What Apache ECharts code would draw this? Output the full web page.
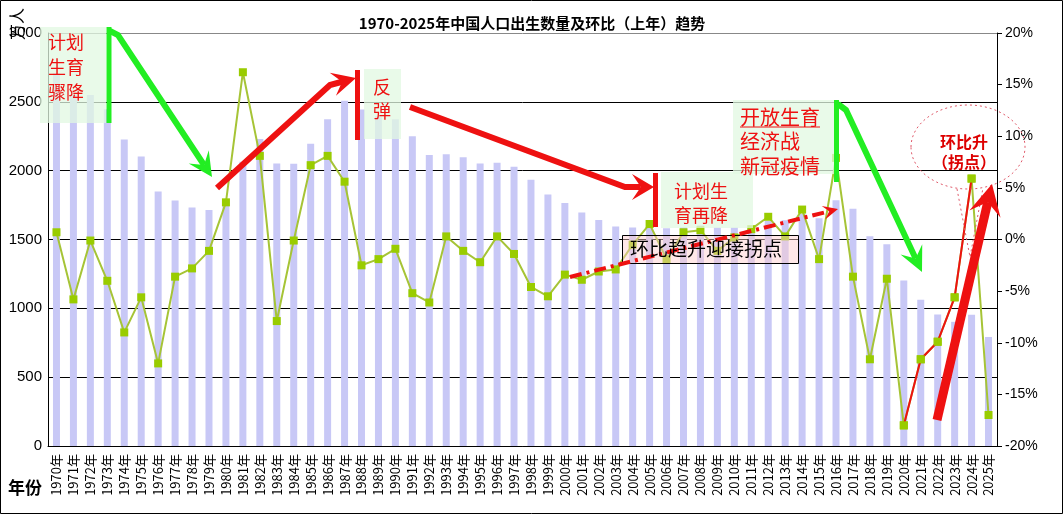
<!DOCTYPE html>
<html>
<head>
<meta charset="utf-8">
<title>1970-2025年中国人口出生数量及环比</title>
<script src="https://cdn.jsdelivr.net/npm/echarts@6/dist/echarts.min.js"></script>
<style>
  html, body { margin: 0; padding: 0; background: #fff; }
  #main { width: 1064px; height: 515px; }
</style>
</head>
<body>
<div id="main"></div>
<script>
// 年份
var years = ['1970年','1971年','1972年','1973年','1974年','1975年','1976年','1977年','1978年','1979年',
  '1980年','1981年','1982年','1983年','1984年','1985年','1986年','1987年','1988年','1989年',
  '1990年','1991年','1992年','1993年','1994年','1995年','1996年','1997年','1998年','1999年',
  '2000年','2001年','2002年','2003年','2004年','2005年','2006年','2007年','2008年','2009年',
  '2010年','2011年','2012年','2013年','2014年','2015年','2016年','2017年','2018年','2019年',
  '2020年','2021年','2022年','2023年','2024年','2025年'];

// 出生人口（万人）
var births = [2710,2551,2550,2447,2226,2102,1849,1783,1733,1715,
  1776,2064,2230,2052,2050,2196,2374,2508,2445,2396,
  2374,2250,2113,2120,2098,2052,2057,2028,1934,1827,
  1765,1696,1641,1594,1588,1612,1581,1591,1604,1587,
  1588,1600,1635,1640,1687,1655,1786,1723,1523,1465,
  1202,1062,956,902,954,792];

// 环比（上年）%
var ratio = [0.7,-5.8,-0.1,-4.0,-9.0,-5.6,-12.0,-3.6,-2.8,-1.1,
  3.6,16.2,8.1,-7.9,-0.1,7.2,8.1,5.6,-2.5,-1.9,
  -0.9,-5.2,-6.1,0.3,-1.1,-2.2,0.3,-1.4,-4.6,-5.5,
  -3.4,-3.9,-3.1,-2.9,-0.5,1.5,-1.9,0.7,0.9,-1.1,
  0.2,1.0,2.2,0.3,2.9,-1.9,7.9,-3.6,-11.6,-3.8,
  -18.0,-11.6,-9.9,-5.6,5.9,-17.0];

// 拐点段
var turnYears = ['2020年','2021年','2022年','2023年','2024年'];

var leftTicks = [0, 3000, 500];
var rightTicks = [-20, 20, 5];

var FONT = 'Noto Sans CJK SC';
var RED = '#ee1111';
var GREEN = '#22ee22';

var turnData = years.map(function(y, i){
	return turnYears.indexOf(y) >= 0 ? ratio[i] : null;
});

/****
 * 箭头：折线 + 燕尾箭头
 */
function arrow(pts, w, color, L, W, dash){
	var n = pts.length, tip = pts[n-1], prev = pts[n-2];
	var dx = tip[0]-prev[0], dy = tip[1]-prev[1];
	var len = Math.sqrt(dx*dx+dy*dy);
	dx /= len; dy /= len;
	var nx = -dy, ny = dx;
	var base = [tip[0]-dx*L, tip[1]-dy*L];
	var notch = [tip[0]-dx*L*0.6, tip[1]-dy*L*0.6];
	var shaft = pts.slice(0, n-1).concat([notch]);
	return [
		{type:'polyline', z:100, shape:{points:shaft},
		 style:{stroke:color, lineWidth:w, fill:null, lineDash:dash || null, lineJoin:'miter'}},
		{type:'polygon', z:100, shape:{points:[tip,[base[0]+nx*W, base[1]+ny*W], notch, [base[0]-nx*W, base[1]-ny*W]]},
		 style:{fill:color}}
	];
}

function box(x, y, w, h, fill, stroke){
	return {type:'rect', z:90, shape:{x:x, y:y, width:w, height:h},
		style:{fill:fill, stroke:stroke || null, lineWidth:1}};
}

function txt(x, y, s, size, color, weight, align){
	return {type:'text', z:110, x:x, y:y,
		style:{text:s, fill:color, font:(weight || 'normal')+' '+size+'px "'+FONT+'"',
			textAlign:align || 'center', textVerticalAlign:'middle'}};
}

function vbar(x, y1, y2, color){
	return {type:'rect', z:100, shape:{x:x-2.5, y:y1, width:5, height:y2-y1}, style:{fill:color}};
}

var GBOX = 'rgba(225,248,225,0.75)';

var graphics = [];
// 外框
graphics.push({type:'rect', z:0, shape:{x:0.5, y:0.5, width:1062, height:513}, style:{fill:null, stroke:'#000', lineWidth:1}});
// 计划生育骤降
graphics.push(box(40, 27, 66, 96, GBOX));
graphics.push(txt(66, 42, '计划', 18, RED));
graphics.push(txt(66, 67, '生育', 18, RED));
graphics.push(txt(66, 92, '骤降', 18, RED));
graphics.push(vbar(109, 27, 123, GREEN));
graphics = graphics.concat(arrow([[110,31],[118,35],[212,177]], 6, GREEN, 24, 12));
// 反弹
graphics = graphics.concat(arrow([[217,188],[330,85],[356,78]], 6, RED, 24, 12));
graphics.push(vbar(357.5, 70, 140, RED));
graphics.push(box(364, 69, 37, 70, GBOX));
graphics.push(txt(382, 87, '反', 18, RED));
graphics.push(txt(382, 111, '弹', 18, RED));
// 计划生育再降
graphics = graphics.concat(arrow([[410,107],[625,187],[654,187]], 6, RED, 22, 13));
graphics.push(vbar(655.5, 173, 227, RED));
graphics.push(box(661, 172, 92, 56, GBOX));
graphics.push(txt(701, 191, '计划生', 18, RED));
graphics.push(txt(701, 215, '育再降', 18, RED));
// 环比趋升迎接拐点
graphics.push(box(622.5, 235.5, 176, 28, 'rgba(255,205,205,0.45)', '#000'));
graphics.push(txt(706, 249, '环比趋升迎接拐点', 19, '#000'));
graphics = graphics.concat(arrow([[570,277],[838,209]], 4, RED, 15, 7, [12,5,3,5]));
// 开放生育
graphics.push(box(733, 100, 101, 74, GBOX));
graphics.push(txt(740, 117, '开放生育', 20, RED, 'normal', 'left'));
graphics.push({type:'line', z:110, shape:{x1:740, y1:127, x2:820, y2:127}, style:{stroke:RED, lineWidth:1}});
graphics.push(txt(740, 141, '经济战', 20, RED, 'normal', 'left'));
graphics.push(txt(740, 166, '新冠疫情', 20, RED, 'normal', 'left'));
graphics.push(vbar(836.5, 100, 182, GREEN));
graphics = graphics.concat(arrow([[838,104],[846,110],[922,272]], 6, GREEN, 25, 12));
// 环比升（拐点）
graphics.push({type:'ellipse', z:95, shape:{cx:968, cy:147, rx:57, ry:42},
	style:{fill:null, stroke:'#e05a6a', lineWidth:1, lineDash:[2,3]}});
graphics.push({type:'polyline', z:95, shape:{points:[[957,189],[970,257],[983,188]]},
	style:{fill:null, stroke:'#e05a6a', lineWidth:1, lineDash:[2,3]}});
graphics.push(txt(964, 142, '环比升', 16, '#dd0000', 'bold'));
graphics.push(txt(964, 162, '（拐点）', 16, '#dd0000', 'bold'));
graphics = graphics.concat(arrow([[937,420],[992,184]], 9, RED, 31, 16));
// 轴名
graphics.push({type:'text', z:110, x:17, y:24, rotation:Math.PI/2,
	style:{text:'万人', fill:'#000', font:'normal 16px "'+FONT+'"', textAlign:'center', textVerticalAlign:'middle'}});
graphics.push(txt(25, 488, '年份', 17, '#000', 'bold'));

var option = {
	animation: false,
	backgroundColor: '#fff',
	title: {
		text: '1970-2025年中国人口出生数量及环比（上年）趋势',
		left: 'center',
		top: 11,
		textStyle: {fontFamily: FONT, fontSize: 15, fontWeight: 'bold', color: '#000'}
	},
	grid: {left: 48, right: 67, top: 33, bottom: 69},
	xAxis: {
		type: 'category',
		data: years,
		axisLine: {lineStyle: {color: '#000', width: 1}},
		axisTick: {inside: true, length: 5, lineStyle: {color: '#000'}},
		axisLabel: {rotate: 90, interval: 0, fontSize: 13, color: '#000', margin: 8, fontFamily: FONT}
	},
	yAxis: [{
		type: 'value',
		min: leftTicks[0], max: leftTicks[1], interval: leftTicks[2],
		axisLine: {show: true, lineStyle: {color: '#000'}},
		axisTick: {show: false},
		axisLabel: {fontSize: 15, color: '#000', margin: 6, fontFamily: 'Liberation Sans',
			formatter: function(v){ return String(v); }},
		splitLine: {lineStyle: {color: ['#000','#000','#000','#000','#000','#000','#888'], width: 1}}
	}, {
		type: 'value',
		position: 'right',
		min: rightTicks[0], max: rightTicks[1], interval: rightTicks[2],
		axisLine: {show: true, lineStyle: {color: '#000'}},
		axisTick: {show: true, length: 5, lineStyle: {color: '#000'}},
		axisLabel: {formatter: '{value}%', fontSize: 14, color: '#000', margin: 8, fontFamily: 'Liberation Sans'},
		splitLine: {show: false}
	}],
	series: [{
		name: '出生人口',
		type: 'bar',
		data: births,
		barWidth: 7,
		itemStyle: {color: '#c8c8f6'},
		z: 1
	}, {
		name: '环比',
		type: 'line',
		yAxisIndex: 1,
		data: ratio,
		symbol: 'rect',
		symbolSize: 8,
		lineStyle: {color: '#a6c436', width: 2},
		itemStyle: {color: '#99cc00'},
		z: 3
	}, {
		name: '拐点',
		type: 'line',
		yAxisIndex: 1,
		data: turnData,
		symbol: 'rect',
		symbolSize: 8,
		connectNulls: false,
		lineStyle: {color: RED, width: 2},
		itemStyle: {color: '#99cc00'},
		z: 4
	}],
	graphic: graphics
};

var chart = echarts.init(document.getElementById('main'));
chart.setOption(option);
</script>
</body>
</html>
